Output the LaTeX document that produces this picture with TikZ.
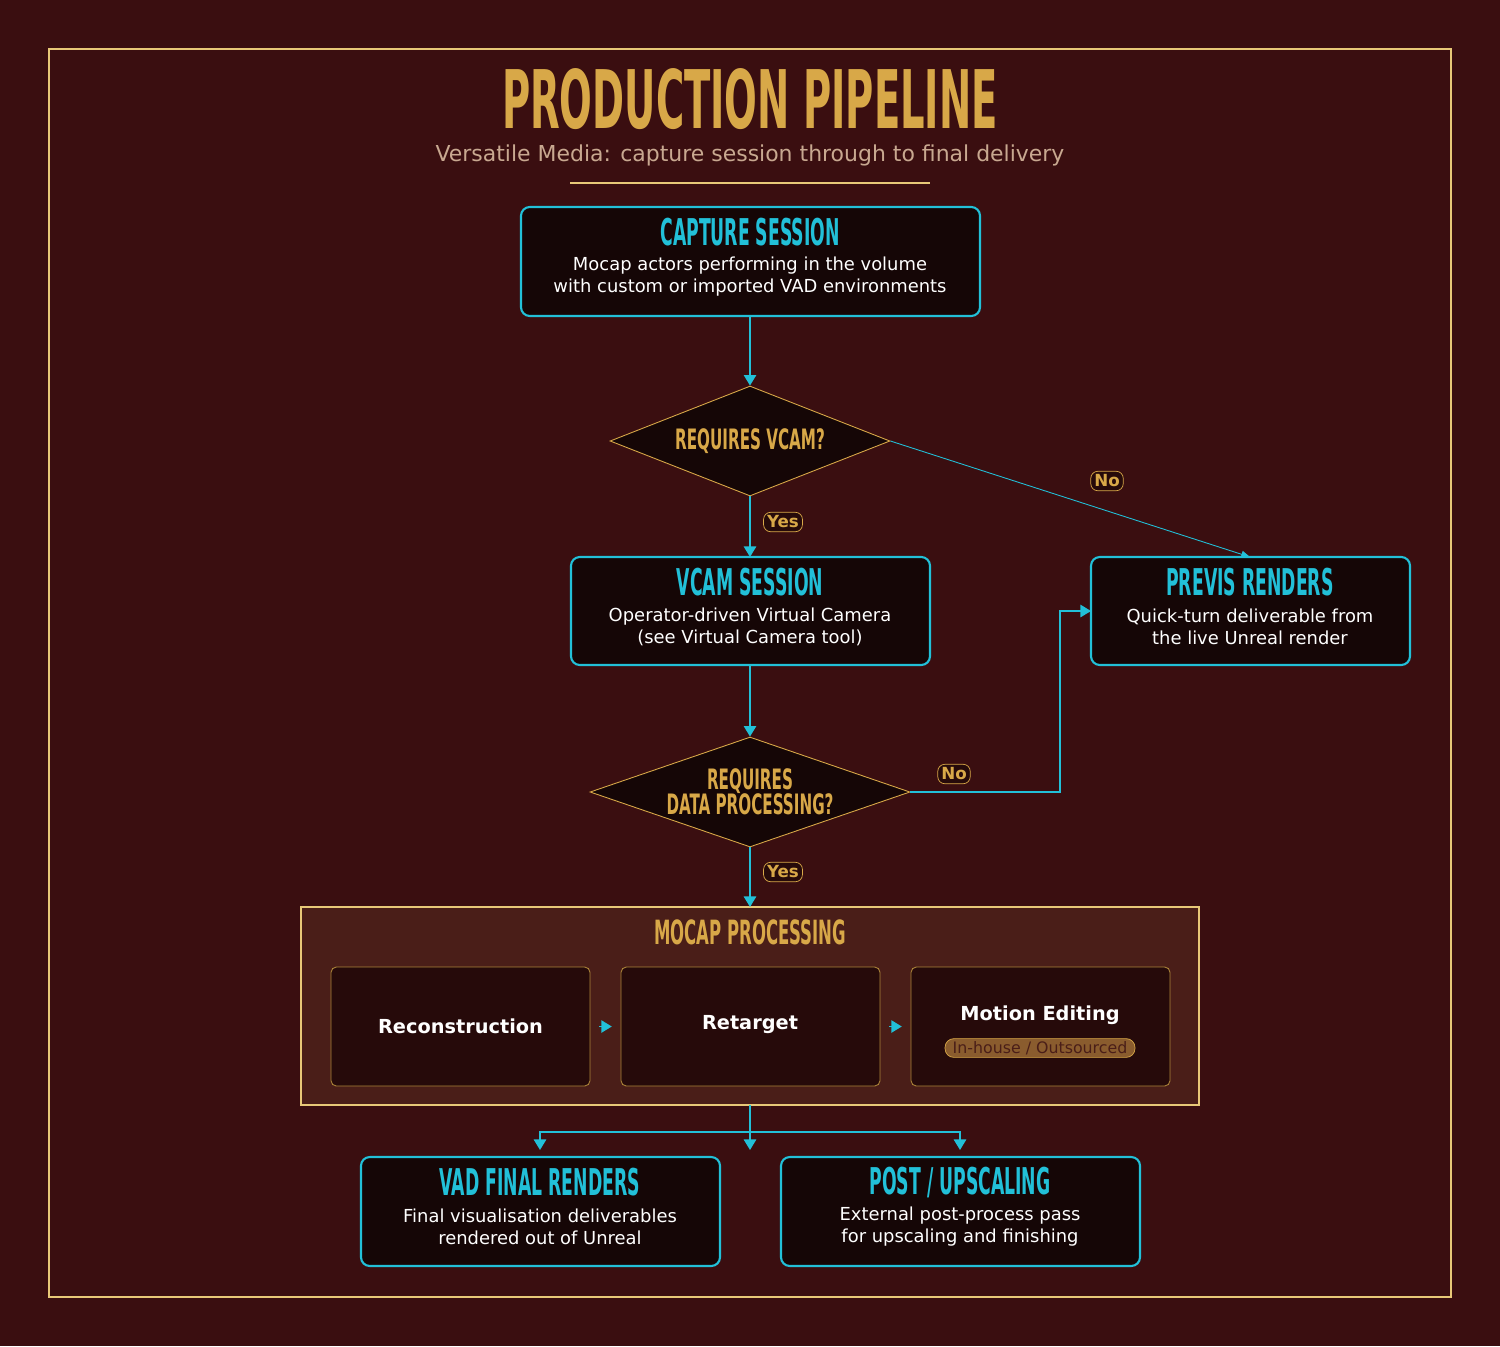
\documentclass[tikz,border=0pt]{standalone}
\usepackage{fontspec}
\setmainfont{DejaVu Sans}
\newfontfamily\headfont{DejaVu Sans Condensed}
\usetikzlibrary{shapes.geometric,arrows.meta}
\definecolor{bgred}{HTML}{3A0E10}
\definecolor{frame}{HTML}{E8C878}
\definecolor{gold}{HTML}{D8A848}
\definecolor{cyanl}{HTML}{22C0D8}
\definecolor{boxfill}{HTML}{150606}
\definecolor{groupfill}{HTML}{4A1E18}
\definecolor{subfill}{HTML}{260A0A}
\definecolor{subtext}{HTML}{C8A890}
\newcommand{\narrow}[2][0.52]{\scalebox{#1}[1]{#2}}
\tikzset{
  stagebox/.style={draw=cyanl, line width=1.2pt, fill=boxfill, rounded corners=5pt},
  stagetitle/.style={text=cyanl, font=\headfont\bfseries\fontsize{21}{21}\selectfont},
  stagetext/.style={text=white, font=\fontsize{10.2}{12.5}\selectfont, align=center},
  decision/.style={diamond, aspect=2.55, draw=gold, line width=0.5pt, fill=boxfill, inner sep=0pt},
  decisiontext/.style={text=gold, font=\headfont\bfseries\fontsize{16}{15}\selectfont, align=center},
  flow/.style={draw=cyanl, line width=1pt, -{Triangle[length=6pt,width=7pt]}},
  thinflow/.style={draw=cyanl, line width=0.5pt, -{Triangle[length=5pt,width=4pt]}},
  answer/.style={draw=gold, fill=subfill, rounded corners=4pt, text=gold, font=\bfseries\fontsize{9.5}{9.5}\selectfont, inner sep=2pt},
  subbox/.style={draw=gold!80!black, line width=0.5pt, fill=subfill, rounded corners=3pt},
  substep/.style={text=white, font=\bfseries\fontsize{11}{11}\selectfont}
}
\begin{document}
\begin{tikzpicture}[x=0.02cm, y=-0.02cm]
% Background and frame
\fill[bgred] (0,0) rectangle (1500,1346);
\draw[frame, line width=1.2pt] (49,49) rectangle (1451,1297);

% Title
\node[text=gold, font=\headfont\bfseries\fontsize{46}{46}\selectfont, inner sep=0pt] (title) at (750,99) {\narrow[0.53]{PRODUCTION PIPELINE}};
\node[text=subtext, font=\fontsize{12.5}{12.5}\selectfont, inner sep=1pt] (subt) at (750,155) {Versatile Media: capture session through to final delivery};
\draw[frame, line width=1pt] (570,183) -- (930,183);

% Capture session
\draw[stagebox] (521,207) rectangle (980,316);
\coordinate (capture) at (750,316);
\node[stagetitle] (capturet) at (750,232) {\narrow{CAPTURE SESSION}};
\node[stagetext] (capturex) at (750,277) {Mocap actors performing in the volume\\with custom or imported VAD environments};

% Requires VCAM
\node[decision, minimum width=5.6cm, minimum height=2.2cm] (vcamq) at (750,441) {};
\node[decisiontext] at (vcamq) {\narrow[0.6]{REQUIRES VCAM?}};
\draw[flow] (capture) -- (vcamq.north);

% VCAM session
\draw[stagebox] (571,557) rectangle (930,665);
\coordinate (vcamtop) at (750,557);
\coordinate (vcambot) at (750,665);
\node[stagetitle] (vcamt) at (750,582) {\narrow{VCAM SESSION}};
\node[stagetext] (vcamx) at (750,627) {Operator-driven Virtual Camera\\(see Virtual Camera tool)};
\draw[flow] (vcamq.south) -- (vcamtop);
\node[answer] (yes1) at (783,522) {Yes};

% Previs renders
\draw[stagebox] (1091,557) rectangle (1410,665);
\coordinate (previstop) at (1250,557);
\coordinate (previsleft) at (1091,611);
\node[stagetitle] (previst) at (1250,582) {\narrow{PREVIS RENDERS}};
\node[stagetext] (previsx) at (1250,627) {Quick-turn deliverable from\\the live Unreal render};
\draw[thinflow] (vcamq.east) -- (previstop);
\node[answer] (no1) at (1107,481) {No};

% Requires data processing
\node[decision, minimum width=6.4cm, minimum height=2.2cm] (dataq) at (750,792) {};
\node[decisiontext] at (dataq) {\narrow[0.6]{REQUIRES}\\[-1pt]\narrow[0.6]{DATA PROCESSING?}};
\draw[flow] (vcambot) -- (dataq.north);
\draw[flow] (dataq.east) -- (1060,792) |- (previsleft);
\node[answer] (no2) at (954,774) {No};

% Mocap processing group
\draw[frame, line width=1pt, fill=groupfill] (301,907) rectangle (1199,1105);
\coordinate (grouptop) at (750,907);
\coordinate (groupbot) at (750,1105);
\node[text=gold, font=\headfont\bfseries\fontsize{19}{19}\selectfont] (groupt) at (750,932) {\narrow[0.55]{MOCAP PROCESSING}};
\draw[flow] (dataq.south) -- (grouptop);
\node[answer] (yes2) at (783,872) {Yes};

\node[subbox, minimum width=5.18cm, minimum height=2.38cm] (recon) at (460.5,1026.5) {};
\node[substep] at (recon) {Reconstruction};
\node[subbox, minimum width=5.18cm, minimum height=2.38cm] (retarget) at (750.5,1026.5) {};
\node[substep] at (750,1025) {Retarget};
\node[subbox, minimum width=5.18cm, minimum height=2.38cm] (motion) at (1040.5,1026.5) {};
\node[substep] at (1040,1015) {Motion Editing};
\node[draw=gold, fill=gold!45!groupfill, rounded corners=5pt, inner sep=1.5pt, text=groupfill,
      font=\fontsize{9}{9}\selectfont, minimum width=3.8cm] (badge) at (1040,1048) {In-house / Outsourced};
\draw[flow, shorten <=5pt, shorten >=5pt] (recon.east) -- (retarget.west);
\draw[flow, shorten <=5pt, shorten >=5pt] (retarget.east) -- (motion.west);

% Final outputs
\draw[stagebox] (361,1157) rectangle (720,1266);
\coordinate (vadtop) at (540,1150);
\node[stagetitle] (vadt) at (540,1182) {\narrow{VAD FINAL RENDERS}};
\node[stagetext] (vadx) at (540,1227) {Final visualisation deliverables\\rendered out of Unreal};
\draw[stagebox] (781,1157) rectangle (1140,1266);
\coordinate (posttop) at (960,1150);
\node[stagetitle] (postt) at (960,1182) {\narrow{POST / UPSCALING}};
\node[stagetext] (postx) at (960,1227) {External post-process pass\\for upscaling and finishing};

\coordinate (split) at (750,1132);
\draw[flow] (groupbot) -- (750,1150);
\draw[flow] (split) -| (vadtop);
\draw[flow] (split) -| (posttop);
\end{tikzpicture}
\end{document}
